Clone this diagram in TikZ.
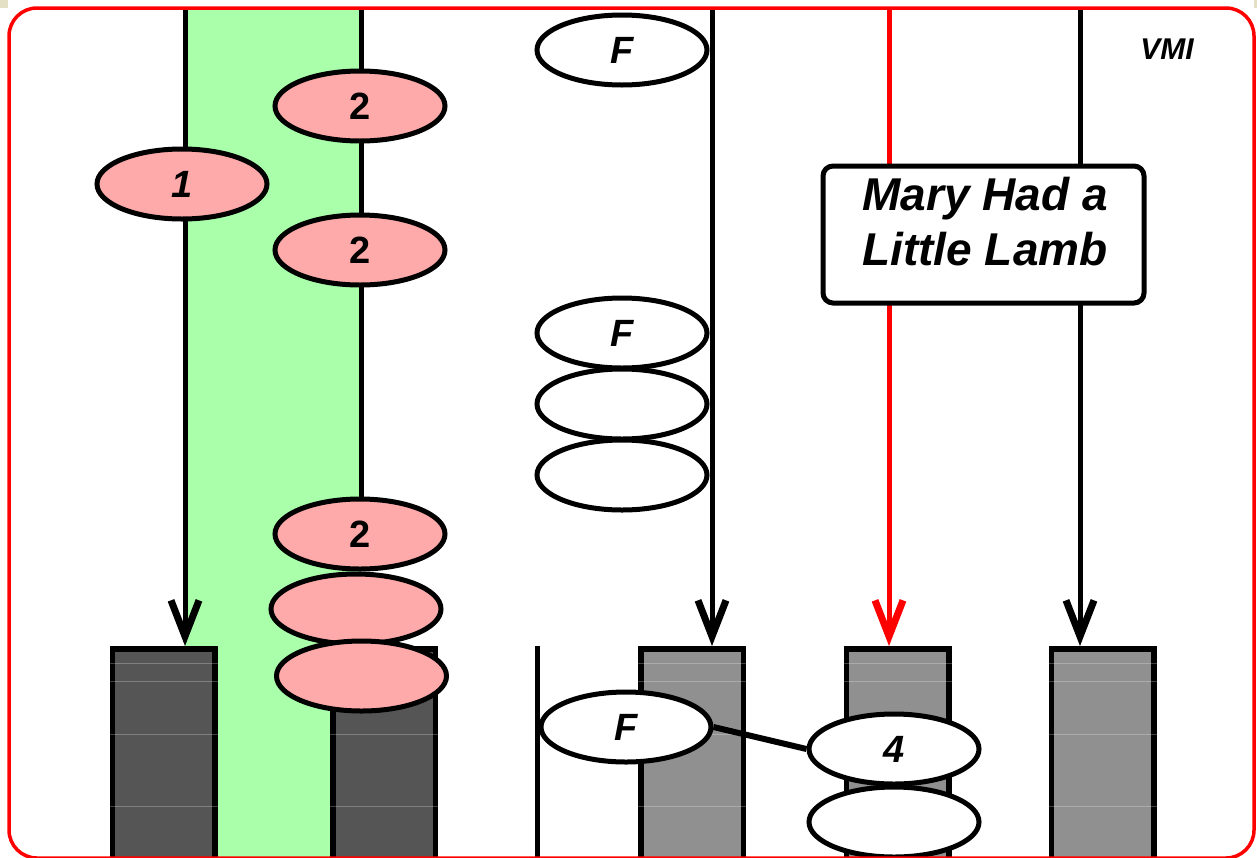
\documentclass[tikz,border=0pt]{standalone}
\usepackage{fontspec}
\setmainfont{Liberation Sans}
\usetikzlibrary{shapes.geometric,arrows.meta}
\definecolor{pinkfill}{HTML}{FFAAAA}
\definecolor{bandgreen}{HTML}{AAFFAA}
\definecolor{darkbar}{HTML}{555555}
\definecolor{graybar}{HTML}{909090}
\definecolor{beige}{HTML}{E3E0C6}
\tikzset{
  ell/.style={ellipse, draw=black, line width=5pt, minimum width=170pt, minimum height=70pt, inner sep=0pt,
    font=\fontsize{38}{38}\selectfont\bfseries\itshape},
  pinkell/.style={ell, fill=pinkfill},
  whiteell/.style={ell, fill=white},
  uprightlabel/.style={font=\fontsize{38}{38}\selectfont\bfseries},
  barbox/.style={rectangle, draw=black, line width=5.5pt, minimum width=102.5pt, minimum height=260pt, anchor=north, inner sep=0pt},
  vline/.style={line width=5pt},
  varrow/.style={vline, -{Straight Barb[length=36pt,width=28pt,line width=7pt]}},
  marybox/.style={rectangle, draw=black, fill=white, line width=5pt, rounded corners=10pt, minimum width=321pt, minimum height=137pt},
  marytext/.style={align=center, inner sep=0pt, font=\fontsize{46}{55}\selectfont\bfseries\itshape},
  tick/.style={white, opacity=0.25, line width=0.8pt}
}
\begin{document}
\begin{tikzpicture}[x=1pt,y=-1pt]
\useasboundingbox (0,0) rectangle (1257,857);
\clip (0,0) rectangle (1257,857);
\fill[white] (0,0) rectangle (1257,857);
\fill[beige] (0,0) rectangle (8,8);
\fill[beige] (1254,0) rectangle (1257,8);

% green band
\fill[bandgreen] (185,9) rectangle (361,870);

% bars
\node[barbox, fill=darkbar] (b1) at (163.5,646) {};
\node[barbox, fill=darkbar] (b2) at (384,646) {};
\node[barbox, fill=graybar] (b3) at (692,646) {};
\node[barbox, fill=graybar] (b4) at (897.5,646) {};
\node[barbox, fill=graybar] (b5) at (1102.5,646) {};
\foreach \b in {b1,b2,b3,b4,b5}{
  \foreach \yy in {663,681,734,806}{
    \draw[tick] (\b.west |- 0,\yy) -- (\b.east |- 0,\yy);
  }
}

% top coordinates of vertical lines
\coordinate (t1) at (185,9);
\coordinate (t2) at (361,9);
\coordinate (t3) at (712,9);
\coordinate (t4) at (889,9);
\coordinate (t5) at (1080,9);
\coordinate (s1) at (537,646);
\coordinate (s2) at (537,870);

\draw[varrow] (t1) -- (t1 |- b1.north);
\draw[varrow] (t3) -- (t3 |- b3.north);
\draw[varrow, red] (t4) -- (t4 |- b4.north);
\draw[varrow] (t5) -- (t5 |- b5.north);
\draw[vline] (s1) -- (s2);

% pink ellipses
\node[pinkell] (p2c) at (360,534) {};
\node[uprightlabel] (l2c) at (p2c) {2};
\draw[vline] (t2) -- (t2 |- p2c.north);
\node[pinkell] (p1) at (182,184) {1};
\node[pinkell] (p2a) at (360,106) {};
\node[uprightlabel] (l2a) at (p2a) {2};
\node[pinkell] (p2b) at (360,250) {};
\node[uprightlabel] (l2b) at (p2b) {2};
\node[pinkell] (p3) at (356,609) {};
\node[pinkell] (p4) at (361.5,676) {};

% white ellipses
\node[whiteell] (fa) at (622,50) {F};
\node[whiteell] (fb) at (622,333) {F};
\node[whiteell] (w1) at (622,404) {};
\node[whiteell] (w2) at (622,475) {};
\node[whiteell] (fc) at (626,727) {F};
\node[whiteell] (w3) at (894,822) {};
\node[whiteell] (n4) at (894,749) {4};
\draw[line width=6pt] (fc.east) -- (n4.west);

% box
\node[marybox] (mary) at (983.5,234.5) {};
\node[marytext] (marylabel) at (985,222) {Mary Had a\\Little Lamb};

% VMI
\node[font=\fontsize{30}{30}\selectfont\bfseries\itshape] (vmi) at (1167,49) {VMI};

% frame
\draw[red, line width=3.5pt, rounded corners=28pt] (9,8) rectangle (1254,858);
\end{tikzpicture}
\end{document}
